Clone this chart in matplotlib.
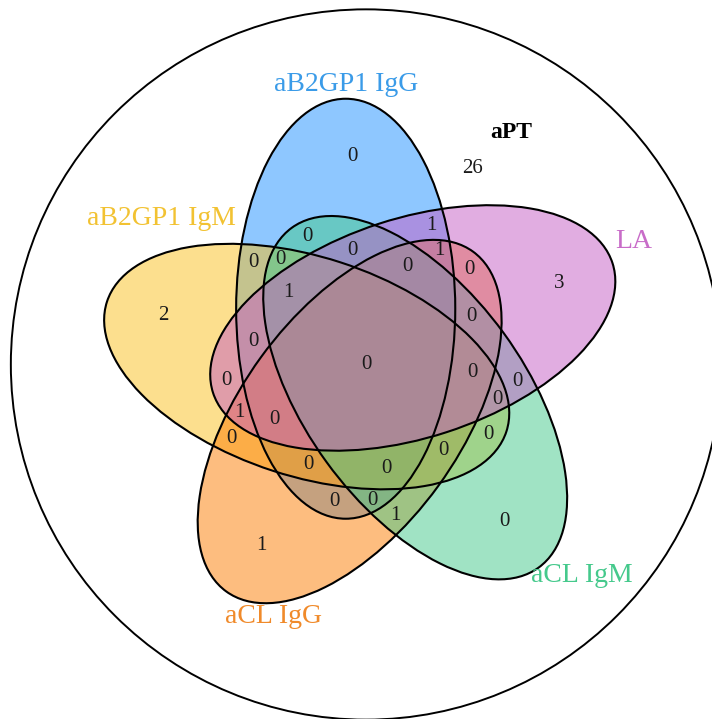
import matplotlib.pyplot as plt
from matplotlib.patches import Ellipse, Circle
import numpy as np

plt.rcParams['font.family'] = ['Liberation Serif', 'DejaVu Serif']

#########
# data  #
#########

# the five sets, starting at the top and going clockwise
set_names = ["aB2GP1 IgG", "LA", "aCL IgM", "aCL IgG", "aB2GP1 IgM"]
fill_colors = ["#1E90FF", "#C55DC5", "#43C98A", "#FD7D01", "#FBC11F"]
text_colors = ["#3A9BE8", "#C86CC8", "#45C98C", "#F08A2A", "#F2C232"]

# the universe (outer circle) and the count outside every ellipse
universe_name = "aPT"
universe_count = 26

# one code per region: 1 = inside the set, in the order of set_names
region_codes = ["10000", "01000", "00100", "00010", "00001",
                "11000", "10100", "10010", "10001", "01100",
                "01010", "01001", "00110", "00101", "00011",
                "11100", "11010", "11001", "10110", "10101",
                "10011", "01110", "01101", "01011", "00111",
                "11110", "11101", "11011", "10111", "01111",
                "11111"]
region_counts = [0, 3, 0, 1, 2,
                 1, 0, 0, 0, 0,
                 0, 0, 1, 0, 0,
                 0, 1, 0, 0, 0,
                 0, 0, 0, 1, 0,
                 0, 1, 0, 0, 0,
                 0]

##########
# layout #
##########

px_per_unit = 456.5     # pixels per diagram unit
dist = 0.13             # ellipse centre distance from diagram centre
semi_long = 0.46
semi_short = 0.24
first_pos = 110         # polar angle of the first ellipse centre
first_rot = 90          # orientation of the first ellipse
outer_r = 0.778
fill_order = [0, 4, 3, 2, 1]   # which ellipse is painted over which

# set label placement (polar angle in degrees, distance)
cat_pos = [94.1, 24.7, -44.4, -110.2, 144.6]
cat_dist = [0.616, 0.646, 0.662, 0.589, 0.551]

fig = plt.figure(figsize=(7.12, 7.19), dpi=100)
ax = fig.add_axes([0, 0, 1, 1])
ax.set_xlim(-366 / px_per_unit, 346 / px_per_unit)
ax.set_ylim(-354.5 / px_per_unit, 364.5 / px_per_unit)
ax.axis('off')

ax.add_patch(Circle((0, 0), outer_r, fill=False, ec='black', lw=1.4))

centres = []
rots = []
for k in range(5):
    phi = np.radians(first_pos - 72 * k)
    centres.append((dist * np.cos(phi), dist * np.sin(phi)))
    rots.append(first_rot - 72 * k)

# fills first, outlines on top
for k in fill_order:
    ax.add_patch(Ellipse(centres[k], 2 * semi_long, 2 * semi_short, angle=rots[k],
                         fc=fill_colors[k], alpha=0.5, ec='none'))
for k in range(5):
    ax.add_patch(Ellipse(centres[k], 2 * semi_long, 2 * semi_short, angle=rots[k],
                         fill=False, ec='black', lw=1.5))

# find a label spot for each region: the grid point farthest from any outline
xs = np.arange(-0.75, 0.75, 0.0025)
X, Y = np.meshgrid(xs, xs)
depth = np.full(X.shape, np.inf)
code_grid = np.zeros(X.shape, dtype=int)
for k in range(5):
    psi = np.radians(rots[k])
    dx = X - centres[k][0]
    dy = Y - centres[k][1]
    u = dx * np.cos(psi) + dy * np.sin(psi)
    v = -dx * np.sin(psi) + dy * np.cos(psi)
    s = np.sqrt((u / semi_long) ** 2 + (v / semi_short) ** 2)
    grad = np.hypot(u / semi_long ** 2, v / semi_short ** 2) / np.maximum(s, 1e-9)
    depth = np.minimum(depth, np.abs(s - 1) / np.maximum(grad, 1e-9))
    code_grid += (s < 1).astype(int) << (4 - k)

for code, count in zip(region_codes, region_counts):
    mask = code_grid == int(code, 2)
    idx = np.argmax(np.where(mask, depth, -1))
    ax.text(X.flat[idx], Y.flat[idx], str(count), ha='center', va='center',
            fontsize=15, color='#1a1a1a')

# set labels
for k in range(5):
    a = np.radians(cat_pos[k])
    ax.text(cat_dist[k] * np.cos(a), cat_dist[k] * np.sin(a), set_names[k],
            ha='center', va='center', fontsize=20, color=text_colors[k])

ax.text(0.3176, 0.509, universe_name, ha='center', va='center', fontsize=17,
        fontweight='bold', color='black')
ax.text(0.234, 0.430, str(universe_count), ha='center', va='center', fontsize=15,
        color='#1a1a1a')

plt.savefig('out.png', dpi=100)
